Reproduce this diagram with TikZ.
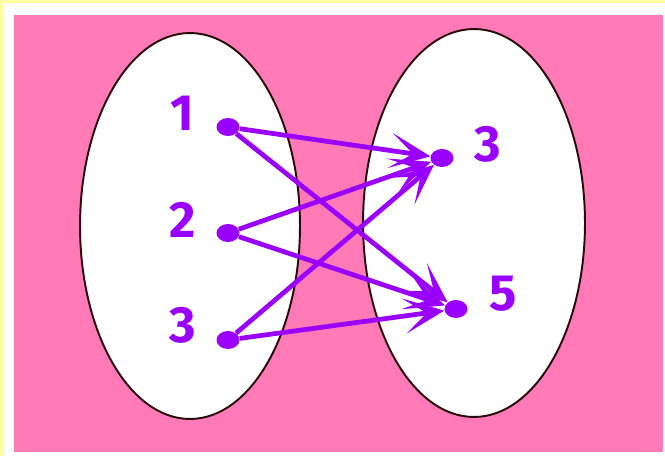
\documentclass[tikz,border=0pt]{standalone}
\usepackage{fontspec}
\setmainfont{Fira Sans}
\usepackage{xcolor}
\usetikzlibrary{arrows.meta,shapes.geometric}

\definecolor{bgpink}{RGB}{255,122,182}
\definecolor{frameyel}{RGB}{255,255,160}
\definecolor{mapviolet}{RGB}{153,0,255}
\definecolor{rimdark}{RGB}{40,10,10}

\begin{document}
\begin{tikzpicture}[
  x=0.02cm,y=-0.02cm,
  set/.style={draw=rimdark,line width=1.1pt,fill=white,ellipse,inner sep=0pt},
  dot/.style={ellipse,fill=mapviolet,inner sep=0pt,minimum width=0.46cm,minimum height=0.36cm},
  num/.style={text=mapviolet,inner sep=0pt,font=\fontsize{29}{29}\selectfont\bfseries},
  arr/.style={-{Stealth[length=23pt,width=20pt,inset=13pt]},line width=2.7pt,draw=mapviolet},
]
  \useasboundingbox (0,0) rectangle (665,456);
  % frame and background
  \fill[white] (0,0) rectangle (665,456);
  \fill[frameyel] (0,0) rectangle (665,3.5);
  \fill[frameyel] (0,0) rectangle (3.5,456);
  \fill[bgpink] (14,15) rectangle (663,452);

  % the two sets
  \node[set,minimum width=4.4cm,minimum height=7.72cm] (dom) at (190,226) {};
  \node[set,minimum width=4.44cm,minimum height=7.76cm] (cod) at (474,223) {};

  % domain
  \node[dot] (d1) at (228,127) {};
  \node[dot] (d2) at (228,233) {};
  \node[dot] (d3) at (228,340) {};
  \node[num] (l1) at (182,113) {1};
  \node[num] (l2) at (183,220) {2};
  \node[num] (l3) at (183,325) {3};

  % codomain
  \node[dot] (c3) at (442,158) {};
  \node[dot] (c5) at (456,309) {};
  \node[num] (m3) at (488,144) {3};
  \node[num] (m5) at (503,294) {5};

  % arrows
  \draw[arr] (d1) -- (c3);
  \draw[arr] (d1) -- (c5);
  \draw[arr] (d2) -- (c3);
  \draw[arr] (d2) -- (c5);
  \draw[arr] (d3) -- (c3);
  \draw[arr] (d3) -- (c5);
\end{tikzpicture}
\end{document}
